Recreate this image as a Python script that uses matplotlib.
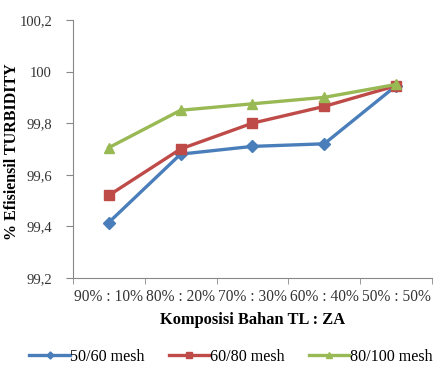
import matplotlib.pyplot as plt
import numpy as np

plt.rcParams['font.family'] = ['Liberation Serif', 'DejaVu Serif']

# composition of TL : ZA and turbidity removal efficiency per mesh size
categories = ['90% : 10%', '80% : 20%', '70% : 30%', '60% : 40%', '50% : 50%']
mesh_50_60 = [99.415, 99.68, 99.71, 99.72, 99.945]
mesh_60_80 = [99.52, 99.70, 99.80, 99.865, 99.945]
mesh_80_100 = [99.705, 99.85, 99.875, 99.90, 99.95]
series_labels = ['50/60 mesh', '60/80 mesh', '80/100 mesh']
yticks = [99.2, 99.4, 99.6, 99.8, 100.0, 100.2]
ytick_labels = ['99,2', '99,4', '99,6', '99,8', '100', '100,2']

fig = plt.figure(figsize=(4.36, 3.69), dpi=100)
ax = fig.add_axes([0.167, 0.2466, 0.824, 0.6994])

x = np.arange(len(categories))
styles = [('#4a7ebb', 'D', 6), ('#be4b48', 's', 7.5), ('#98b954', '^', 7.5)]
for vals, label, (col, mk, ms) in zip([mesh_50_60, mesh_60_80, mesh_80_100], series_labels, styles):
    ax.plot(x, vals, color=col, marker=mk, markersize=ms, linewidth=2.4, label=label)

ax.set_xlim(-0.5, len(categories) - 0.5)
ax.set_ylim(99.2, 100.2)
ax.set_yticks(yticks)
ax.set_yticklabels(ytick_labels, fontsize=10.5, color='#333333')
ax.set_xticks(x)
ax.set_xticklabels(categories, fontsize=11.2, color='#333333')
ax.tick_params(axis='x', length=0, pad=8)
ax.set_xticks(np.arange(-0.5, len(categories)), minor=True)
ax.tick_params(axis='x', which='minor', length=4, color='#888888')
ax.tick_params(axis='y', length=5, color='#888888', pad=10)

for s in ['top', 'right']:
    ax.spines[s].set_visible(False)
for s in ['left', 'bottom']:
    ax.spines[s].set_color('#888888')

ax.set_xlabel('Komposisi Bahan TL : ZA', fontsize=11.8, fontweight='bold', labelpad=5)
ax.set_ylabel('% Efisiensil TURBIDITY', fontsize=11.5, fontweight='bold')
ax.yaxis.set_label_coords(-0.148, 0.49)

fig.legend(loc='center', bbox_to_anchor=(0.53, 12 / 369), ncol=3, frameon=False,
           fontsize=11.6, handlelength=2.5, columnspacing=1.5, handletextpad=0.05,
           markerscale=0.6)

fig.savefig('out.png', dpi=100)
